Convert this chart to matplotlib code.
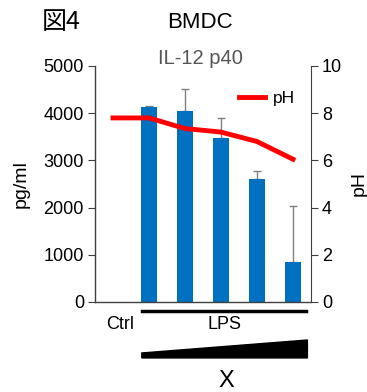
import numpy as np
import matplotlib
matplotlib.use("Agg")
import matplotlib.pyplot as plt
from matplotlib.patches import Polygon
import matplotlib.transforms as mtransforms

plt.rcParams['font.family'] = ['Liberation Sans', 'Noto Sans CJK JP', 'DejaVu Sans']

# データ
groups = ['Ctrl', 'LPS1', 'LPS2', 'LPS3', 'LPS4', 'LPS5']
il12 = [np.nan, 4130, 4050, 3480, 2600, 840]
il12_err = [0, 20, 460, 420, 170, 1200]
ph = [7.8, 7.8, 7.35, 7.2, 6.8, 6.05]
left_ticks = [0, 1000, 2000, 3000, 4000, 5000]
right_ticks = [0, 2, 4, 6, 8, 10]

W, H = 367, 392
fig = plt.figure(figsize=(W / 100, H / 100), dpi=100)
ax = fig.add_axes([95 / W, 1 - 302 / H, (311 - 95) / W, (302 - 66) / H])

x = np.arange(len(groups))
ax.bar(x, il12, width=0.42, color='#0070C0', zorder=2)
ax.errorbar(x, il12, yerr=[np.zeros(len(x)), il12_err], fmt='none',
            ecolor='#808080', elinewidth=1, capsize=3, capthick=1, zorder=1)
ax.set_xlim(-0.5, 5.5)
ax.set_ylim(0, 5000)
ax.set_yticks(left_ticks)
ax.set_xticks([])
ax.spines['top'].set_visible(False)
ax.spines['right'].set_visible(False)
for s in ['left', 'bottom']:
    ax.spines[s].set_color('#404040')
    ax.spines[s].set_linewidth(1)
ax.tick_params(axis='y', labelsize=13, length=5, color='#404040', pad=3)
ax.set_ylabel('pg/ml', fontsize=14, labelpad=10)

ax2 = ax.twinx()
ax2.plot(x, ph, color='#FF0000', lw=3.5, label='pH', zorder=3)
ax2.set_ylim(0, 10)
ax2.set_yticks(right_ticks)
ax2.spines['top'].set_visible(False)
ax2.spines['left'].set_visible(False)
ax2.spines['bottom'].set_visible(False)
ax2.spines['right'].set_color('#404040')
ax2.tick_params(axis='y', labelsize=13, length=5, color='#404040', pad=3)
ax2.set_ylabel('pH', fontsize=14, labelpad=6)
ax2.legend(loc='center right', bbox_to_anchor=(1.0, 0.864), frameon=False,
           fontsize=12.5, handlelength=1.45, handletextpad=0.5)

# 下の注釈
trans = mtransforms.blended_transform_factory(ax.transData, ax.transAxes)
ax.plot([0.8, 5.35], [-0.038, -0.038], color='black', lw=2.5,
        transform=trans, clip_on=False)
ax.text(0.2, -0.095, 'Ctrl', transform=trans, ha='center', va='center', fontsize=13)
ax.text(3.1, -0.095, 'LPS', transform=trans, ha='center', va='center', fontsize=13)
wedge = Polygon([[0.8, -0.237], [5.4, -0.237], [5.4, -0.161], [0.8, -0.216]],
                closed=True, color='black', transform=trans, clip_on=False)
ax.add_patch(wedge)
ax.text(3.15, -0.335, 'X', transform=trans, ha='center', va='center', fontsize=17)

fig.text(61 / W, 1 - 22 / H, '図4', ha='center', va='center', fontsize=18,
         family=['Noto Sans CJK JP', 'DejaVu Sans'])
fig.text(200 / W, 1 - 22 / H, 'BMDC', ha='center', va='center', fontsize=16)
fig.text(200 / W, 1 - 58 / H, 'IL-12 p40', ha='center', va='center',
         fontsize=14.5, color='#555555')

fig.savefig('out.png', dpi=100)
